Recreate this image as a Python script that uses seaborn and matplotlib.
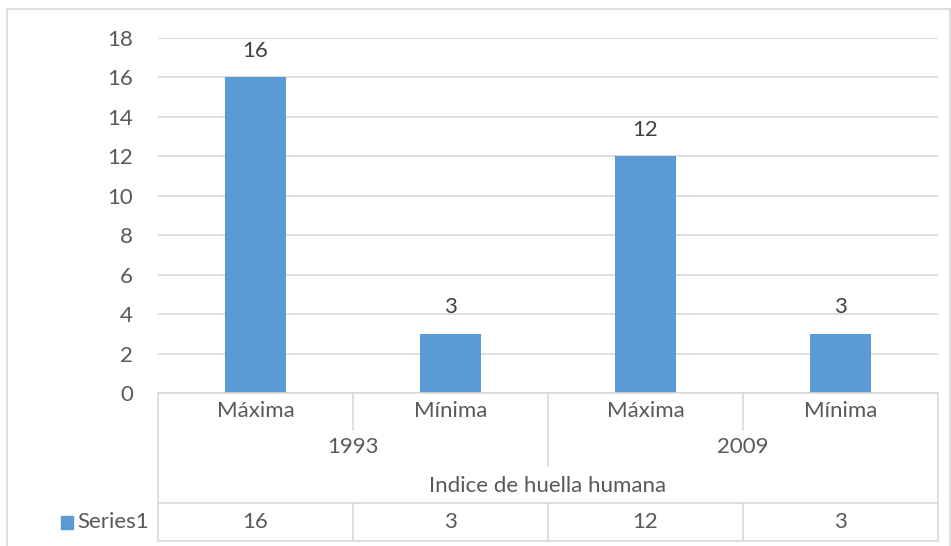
import matplotlib
matplotlib.use("Agg")
import matplotlib.pyplot as plt
import matplotlib.transforms as mtransforms
from matplotlib.lines import Line2D
from matplotlib.patches import Rectangle
import seaborn as sns
import pandas as pd

# datos
niveles = ["Máxima", "Mínima", "Máxima", "Mínima"]
anios = ["1993", "2009"]
titulo_eje = "Indice de huella humana"
serie = "Series1"
valores = [16, 3, 12, 3]

df = pd.DataFrame({"cat": range(len(valores)), "valor": valores})

sns.set_style("white")
plt.rcParams["font.family"] = ["Lato", "DejaVu Sans"]

W, H = 951, 546
fig = plt.figure(figsize=(W / 100, H / 100), dpi=100)

def fx(px):
    return px / W

def fy(py):
    return 1 - py / H

GRIS = "#d9d9d9"
TXT = "#595959"
FS = 16

ax = fig.add_axes([fx(158), fy(393), fx(938) - fx(158), fy(38) - fy(393)])
sns.barplot(data=df, x="cat", y="valor", color="#5b9bd5", width=0.315,
            saturation=1, ax=ax, order=range(len(valores)), linewidth=0,
            edgecolor="none")
ax.set_xlim(-0.5, len(valores) - 0.5)
ax.set_ylim(0, 18)
ax.set_yticks(range(0, 19, 2))
ax.yaxis.grid(True, color=GRIS, linewidth=1.2)
ax.set_axisbelow(True)
for s in ["left", "right", "top", "bottom"]:
    ax.spines[s].set_visible(False)
ax.set_xticks([])
ax.set_xlabel("")
ax.set_ylabel("")
ax.tick_params(axis="y", length=0, labelsize=FS, labelcolor=TXT, pad=18)

for c in ax.containers:
    ax.bar_label(c, padding=12, fontsize=FS, color="#404040", fmt="%d")

# tabla de categorias bajo el eje
tr = mtransforms.blended_transform_factory(ax.transData, fig.transFigure)
n = len(valores)

def hline(x0, x1, ypx):
    ax.add_line(Line2D([x0, x1], [fy(ypx), fy(ypx)], transform=tr, color=GRIS,
                       linewidth=1.2, clip_on=False))

def vline(x, y0, y1):
    ax.add_line(Line2D([x, x], [fy(y0), fy(y1)], transform=tr, color=GRIS,
                       linewidth=1.2, clip_on=False))

hline(-0.5, n - 0.5, 393)
hline(-0.5, n - 0.5, 503)
hline(-0.5, n - 0.5, 541)
ax.add_line(Line2D([fx(52), fx(158)], [fy(503), fy(503)], transform=fig.transFigure,
                   color=GRIS, linewidth=1.2))
ax.add_line(Line2D([fx(52), fx(158)], [fy(541), fy(541)], transform=fig.transFigure,
                   color=GRIS, linewidth=1.2))
ax.add_line(Line2D([fx(52), fx(52)], [fy(503), fy(541)], transform=fig.transFigure,
                   color=GRIS, linewidth=1.2))
vline(-0.5, 393, 541)
vline(n - 0.5, 393, 541)
vline(0.5, 393, 430)
vline(2.5, 393, 430)
vline(1.5, 393, 466)
vline(0.5, 503, 541)
vline(1.5, 503, 541)
vline(2.5, 503, 541)

for i, t in enumerate(niveles):
    ax.text(i, fy(411), t, transform=tr, ha="center", va="center",
            fontsize=FS, color=TXT)
for j, a in enumerate(anios):
    ax.text(2 * j + 0.5, fy(447), a, transform=tr, ha="center", va="center",
            fontsize=FS, color=TXT)
ax.text((n - 1) / 2, fy(486), titulo_eje, transform=tr, ha="center",
        va="center", fontsize=FS, color=TXT)
for i, v in enumerate(valores):
    ax.text(i, fy(522), str(v), transform=tr, ha="center", va="center",
            fontsize=FS, color=TXT)

# leyenda de la tabla
fig.add_artist(Rectangle((fx(61), fy(529)), fx(12), fy(516) - fy(529),
                         transform=fig.transFigure, color="#5b9bd5"))
fig.text(fx(77), fy(522), serie, ha="left", va="center", fontsize=FS, color=TXT)

# marco del grafico
fig.add_artist(Rectangle((fx(7), fy(560)), fx(943), fy(9) - fy(560),
                         transform=fig.transFigure, fill=False,
                         edgecolor=GRIS, linewidth=1.2))

fig.savefig("out.png", dpi=100)
